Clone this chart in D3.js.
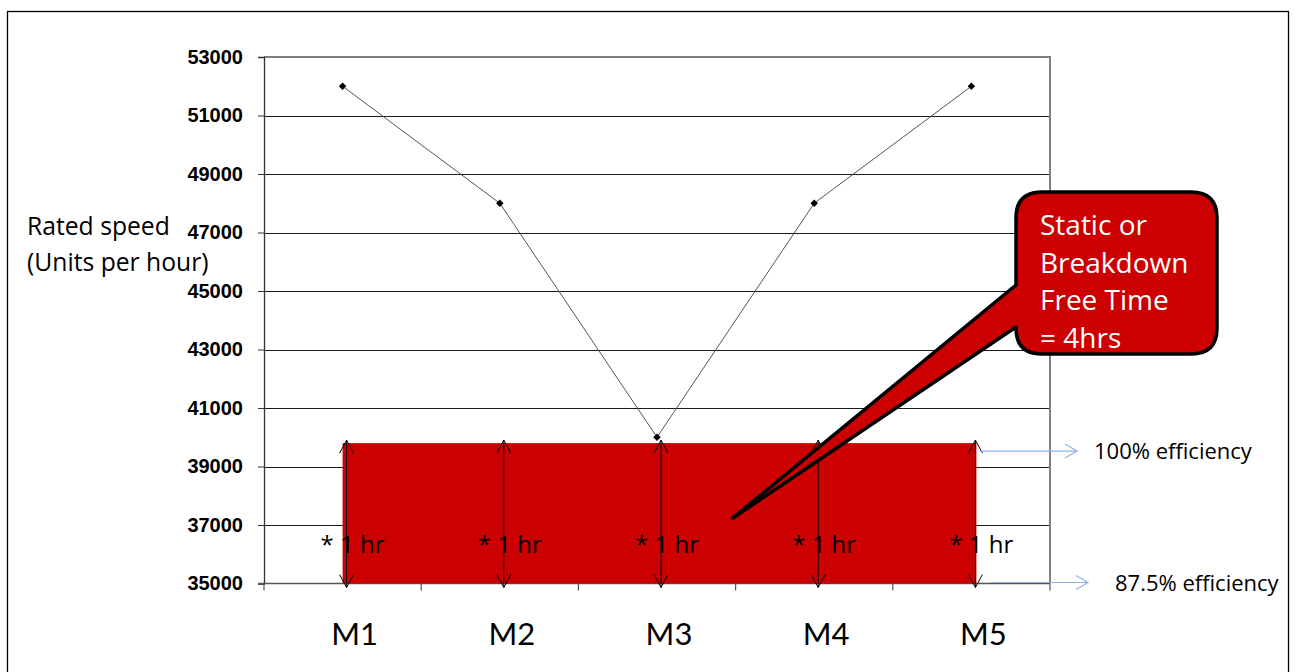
<!DOCTYPE html>
<html>
<head>
<meta charset="utf-8">
<script src="https://cdn.jsdelivr.net/npm/d3@7"></script>
<style>
  html, body { margin: 0; padding: 0; background: #fff; }
  svg { display: block; }
</style>
</head>
<body>
<svg id="chart" width="1295" height="672"></svg>
<script>
// ---- data ----
const categories = ["M1", "M2", "M3", "M4", "M5"];
const ratedSpeed = [52000, 48000, 40000, 48000, 52000];
const yTicks = [35000, 37000, 39000, 41000, 43000, 45000, 47000, 49000, 51000, 53000];
const yDomain = [35000, 53000];
const bandTop = 39800;     // 100% efficiency level
const bandBottom = 35000;  // 87.5% efficiency level
const hourLabels = ["* 1 hr", "* 1 hr", "* 1 hr", "* 1 hr", "* 1 hr"];
const efficiencyLabels = ["100% efficiency", "87.5% efficiency"];
const efficiencyLevels = [bandTop, bandBottom];
const yTitle = ["Rated speed", "(Units per hour)"];
const calloutLines = ["Static or", "Breakdown", "Free Time", "= 4hrs"];
const calloutTip = { category: "M3", offset: 0.98, value: 37230 };

// ---- layout ----
const svg = d3.select("#chart");
const plot = { left: 264, right: 1050, top: 57, bottom: 583.5 };
const x = d3.scaleBand().domain(categories).range([plot.left, plot.right]);
const y = d3.scaleLinear().domain(yDomain).range([plot.bottom, plot.top]);
const cx = c => x(c) + x.bandwidth() / 2;
const calibri = "'Open Sans', Lato, sans-serif";
const calibriM = "Lato, 'Open Sans', sans-serif";

// outer frame
svg.append("rect").attr("x", 7.5).attr("y", 11.5).attr("width", 1281).attr("height", 680)
  .attr("fill", "none").attr("stroke", "#000").attr("stroke-width", 1.3);

// gridlines
svg.append("g").selectAll("line").data(yTicks.filter(t => t !== yDomain[0] && t !== yDomain[1]))
  .join("line")
  .attr("x1", plot.left).attr("x2", plot.right)
  .attr("y1", d => Math.round(y(d)) + 0.5).attr("y2", d => Math.round(y(d)) + 0.5)
  .attr("stroke", "#1a1a1a").attr("stroke-width", 1);

// plot top / right border
svg.append("line").attr("x1", plot.left).attr("x2", plot.right + 1)
  .attr("y1", y(yDomain[1])).attr("y2", y(yDomain[1]))
  .attr("stroke", "#808080").attr("stroke-width", 2);
svg.append("line").attr("x1", plot.right).attr("x2", plot.right)
  .attr("y1", y(yDomain[1])).attr("y2", plot.bottom)
  .attr("stroke", "#808080").attr("stroke-width", 2);

// y axis
const yAxis = d3.axisLeft(y).tickValues(yTicks).tickSize(6).tickPadding(15).tickFormat(d3.format("d"));
const gy = svg.append("g").attr("transform", `translate(${plot.left},0)`).call(yAxis);
gy.select(".domain").attr("stroke", "#333").attr("stroke-width", 1.3);
gy.selectAll(".tick line").attr("stroke", "#333");
gy.selectAll(".tick text").attr("font-family", "'Liberation Sans', Arial, sans-serif")
  .attr("font-weight", "bold").attr("font-size", 20).attr("fill", "#000");

// x axis baseline and ticks at band edges
svg.append("line").attr("x1", plot.left - 6).attr("x2", plot.right)
  .attr("y1", plot.bottom).attr("y2", plot.bottom).attr("stroke", "#555").attr("stroke-width", 1.5);
const edges = categories.map(c => x(c)).concat([x(categories[categories.length - 1]) + x.bandwidth()]);
svg.append("g").selectAll("line").data(edges).join("line")
  .attr("x1", d => d).attr("x2", d => d).attr("y1", plot.bottom).attr("y2", plot.bottom + 7)
  .attr("stroke", "#555").attr("stroke-width", 1.2);

// category labels
svg.append("g").selectAll("text").data(categories).join("text")
  .attr("x", d => cx(d) + 12).attr("y", 645)
  .attr("text-anchor", "middle").attr("font-family", calibriM).attr("font-size", 31)
  .attr("fill", "#000").text(d => d);

// y title
svg.append("g").selectAll("text").data(yTitle).join("text")
  .attr("x", 27).attr("y", (d, i) => 235 + i * 36)
  .attr("font-family", calibri).attr("font-size", 24.7).attr("fill", "#000").text(d => d);

// line series
const line = d3.line().x((d, i) => cx(categories[i])).y(d => y(d));
svg.append("path").datum(ratedSpeed).attr("d", line)
  .attr("fill", "none").attr("stroke", "#555").attr("stroke-width", 1);
svg.append("g").selectAll("path").data(ratedSpeed).join("path")
  .attr("d", d3.symbol(d3.symbolDiamond2, 36))
  .attr("transform", (d, i) => `translate(${cx(categories[i])},${y(d)})`)
  .attr("fill", "#000");

// red band
const bandLeft = cx(categories[0]);
const bandRight = cx(categories[categories.length - 1]) + 5;
svg.append("rect").attr("x", bandLeft).attr("y", y(bandTop))
  .attr("width", bandRight - bandLeft).attr("height", y(bandBottom) - y(bandTop))
  .attr("fill", "#CC0000");

// double arrows and hour labels
const arrowG = svg.append("g");
categories.forEach((c, i) => {
  const ax = cx(c) + 4;
  const yt = y(bandTop) - 3, yb = y(bandBottom) + 4;
  arrowG.append("line").attr("x1", ax).attr("x2", ax).attr("y1", yt).attr("y2", yb)
    .attr("stroke", "#000").attr("stroke-width", 1);
  arrowG.append("path").attr("d", `M${ax - 7},${yt + 13}L${ax},${yt}L${ax + 7},${yt + 13}`)
    .attr("fill", "none").attr("stroke", "#000").attr("stroke-width", 1);
  arrowG.append("path").attr("d", `M${ax - 7},${yb - 13}L${ax},${yb}L${ax + 7},${yb - 13}`)
    .attr("fill", "none").attr("stroke", "#000").attr("stroke-width", 1);
  arrowG.append("text").attr("x", cx(c) - 22).attr("y", 553)
    .attr("font-family", calibri).attr("font-size", 24).attr("fill", "#000")
    .text(hourLabels[i]);
});

// efficiency annotations
const effStart = [980, 991], effEnd = [1077, 1088], effText = [1094, 1115];
efficiencyLevels.forEach((v, i) => {
  const yy = i === 0 ? y(v) + 8 : y(v) - 1;
  svg.append("line").attr("x1", effStart[i]).attr("x2", effEnd[i]).attr("y1", yy).attr("y2", yy)
    .attr("stroke", "#8DB4E2").attr("stroke-width", 1.2);
  svg.append("path").attr("d", `M${effEnd[i] - 12},${yy - 7}L${effEnd[i]},${yy}L${effEnd[i] - 12},${yy + 7}`)
    .attr("fill", "none").attr("stroke", "#8DB4E2").attr("stroke-width", 1.2);
  svg.append("text").attr("x", effText[i]).attr("y", yy + 8)
    .attr("font-family", calibri).attr("font-size", 22).attr("fill", "#000")
    .text(efficiencyLabels[i]);
});

// callout
const bx0 = 1016, bx1 = 1217, by0 = 192, by1 = 354, r = 26;
const tipX = x(calloutTip.category) + x.bandwidth() * calloutTip.offset;
const tipY = y(calloutTip.value);
const pA = 285, pB = 327;
const calloutPath = [
  `M${bx0 + r},${by0}`,
  `L${bx1 - r},${by0}`,
  `Q${bx1},${by0} ${bx1},${by0 + r}`,
  `L${bx1},${by1 - r}`,
  `Q${bx1},${by1} ${bx1 - r},${by1}`,
  `L${bx0 + r},${by1}`,
  `Q${bx0},${by1} ${bx0},${by1 - r}`,
  `L${bx0},${pB}`,
  `L${tipX},${tipY}`,
  `L${bx0},${pA}`,
  `L${bx0},${by0 + r}`,
  `Q${bx0},${by0} ${bx0 + r},${by0}`,
  "Z"
].join("");
svg.append("path").attr("d", calloutPath)
  .attr("fill", "#CC0000").attr("stroke", "#000").attr("stroke-width", 3.5)
  .attr("stroke-linejoin", "round");
svg.append("g").selectAll("text").data(calloutLines).join("text")
  .attr("x", 1040).attr("y", (d, i) => 235 + i * 37.5)
  .attr("font-family", calibri).attr("font-size", 28).attr("fill", "#fff").text(d => d);
</script>
</body>
</html>
